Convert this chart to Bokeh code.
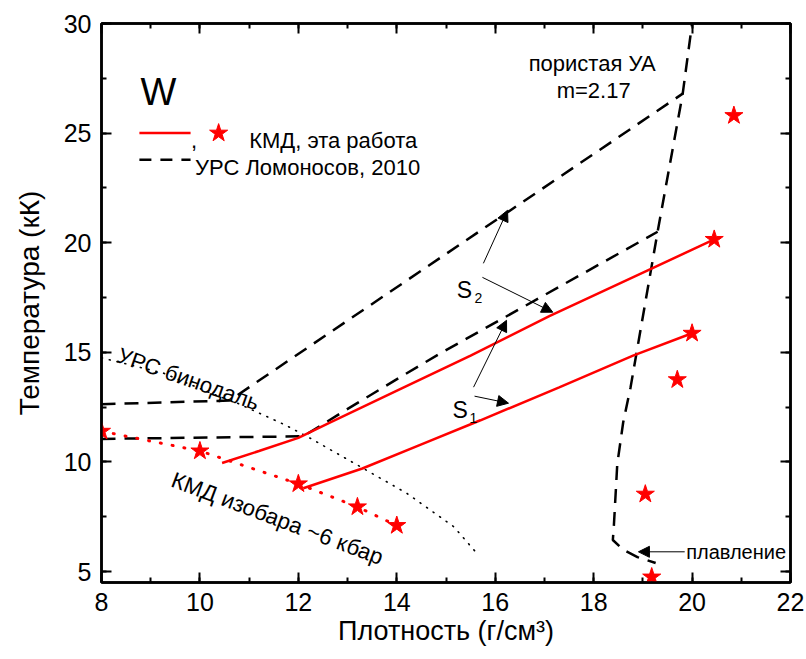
from bokeh.plotting import figure
from bokeh.models import Range1d, LinearAxis, SingleIntervalTicker, Arrow, NormalHead, Label
from bokeh.embed import file_html
from bokeh.resources import INLINE

FONT = "Liberation Sans"

# ---- data (density g/cm3, temperature kK) ----
isobar_rho = [8.0, 10.0, 12.0, 13.2, 14.0]
isobar_T = [11.4, 10.5, 9.0, 7.95, 7.1]
hug_rho = [19.18, 19.05, 19.7, 20.0, 20.45, 20.85]
hug_T = [4.75, 8.53, 13.75, 15.87, 20.15, 25.8]
s2_rho = [10.45, 11.2, 12.0, 12.65, 14.1, 15.5, 17.1, 19.1, 20.45]
s2_T = [9.95, 10.5, 11.1, 11.8, 13.35, 14.85, 16.65, 18.74, 20.15]
s1_rho = [12.1, 13.3, 14.5, 15.7, 17.3, 18.8, 20.0]
s1_T = [8.8, 9.7, 10.8, 11.9, 13.4, 14.85, 15.87]
eos_up_rho = [8.0, 10.6, 19.81]
eos_up_T = [12.63, 12.8, 26.8]
eos_low_rho = [8.0, 12.1, 12.96, 14.08, 14.89, 19.3]
eos_low_T = [11.05, 11.17, 12.36, 13.88, 14.96, 20.5]
porous_rho = [20.03, 19.81, 19.3, 18.75, 18.6, 18.48, 18.41, 18.39, 18.61, 18.89, 19.26]
porous_T = [30.5, 26.8, 20.5, 13.4, 11.8, 9.9, 7.04, 6.44, 5.98, 5.66, 5.39]
binodal_rho = [8.0, 9.26, 10.22, 10.76, 11.74, 12.25, 13.26, 14.21, 15.16, 15.6]
binodal_T = [14.75, 14.05, 13.14, 12.68, 11.68, 11.07, 9.78, 8.56, 7.04, 5.9]

x_ticks_interval = 2
y_ticks_interval = 5

p = figure(width=806, height=659, x_range=Range1d(8, 22), y_range=Range1d(4.5, 30),
           output_backend="svg", toolbar_location=None,
           min_border_left=101, min_border_right=16, min_border_top=23, min_border_bottom=77)
p.grid.visible = False
p.outline_line_color = "black"
p.outline_line_width = 2.5
p.background_fill_color = "white"
p.border_fill_color = "white"


def style_axis(ax, ticker, show_labels=True):
    ax.ticker = ticker
    ax.axis_line_width = 2.5
    ax.axis_line_color = "black"
    ax.major_tick_in = 10
    ax.major_tick_out = 0
    ax.minor_tick_in = 5
    ax.minor_tick_out = 0
    ax.major_tick_line_width = 2
    ax.minor_tick_line_width = 2
    ax.major_tick_line_color = "black"
    ax.minor_tick_line_color = "black"
    ax.major_label_text_font = FONT
    ax.major_label_text_color = "black"
    if show_labels:
        ax.major_label_text_font_size = "25px"
        ax.major_label_standoff = 10
    else:
        ax.major_label_text_font_size = "1px"
        ax.major_label_text_alpha = 0
        ax.major_label_standoff = 0


xt = lambda: SingleIntervalTicker(interval=x_ticks_interval, num_minor_ticks=2)
yt = lambda: SingleIntervalTicker(interval=y_ticks_interval, num_minor_ticks=2)

style_axis(p.xaxis[0], xt())
style_axis(p.yaxis[0], yt())
p.xaxis.axis_label = "Плотность (г/см³)"
p.yaxis.axis_label = "Температура (кК)"
for ax in (p.xaxis[0], p.yaxis[0]):
    ax.axis_label_text_font = FONT
    ax.axis_label_text_font_style = "normal"
    ax.axis_label_text_color = "black"
p.xaxis[0].axis_label_text_font_size = "27px"
p.yaxis[0].axis_label_text_font_size = "28px"
p.xaxis[0].axis_label_standoff = 2
p.yaxis[0].axis_label_standoff = 16

top = LinearAxis()
style_axis(top, xt(), show_labels=False)
p.add_layout(top, "above")
right = LinearAxis()
style_axis(right, yt(), show_labels=False)
p.add_layout(right, "right")

# ---- curves ----
p.line(binodal_rho, binodal_T, line_color="black", line_width=1.6, line_dash="1 7", line_cap="round")
p.line(eos_up_rho, eos_up_T, line_color="black", line_width=2.5, line_dash="14 9")
p.line(eos_low_rho, eos_low_T, line_color="black", line_width=2.5, line_dash="14 9")
p.line(porous_rho, porous_T, line_color="black", line_width=2.5, line_dash="14 9")
p.line(isobar_rho, isobar_T, line_color="red", line_width=3, line_dash="1 11", line_cap="round")
p.line(s2_rho, s2_T, line_color="red", line_width=2.5)
p.line(s1_rho, s1_T, line_color="red", line_width=2.5)
p.scatter(isobar_rho, isobar_T, marker="star", size=19, fill_color="red", line_color="red")
p.scatter(hug_rho, hug_T, marker="star", size=19, fill_color="red", line_color="red")

# ---- legend (manual) ----
p.line([8.77, 9.81], [25.0, 25.0], line_color="red", line_width=2.5)
p.scatter([10.38], [25.0], marker="star", size=19, fill_color="red", line_color="red")
p.line([8.77, 9.81], [23.79, 23.79], line_color="black", line_width=2.5, line_dash="12 9")


def lab(x, y, text, size, **kw):
    p.add_layout(Label(x=x, y=y, text=text, text_font=FONT, text_font_size=size,
                       text_color="black", **kw))


lab(9.82, 24.67, ",", "22px", text_baseline="alphabetic")
lab(11.0, 24.67, "КМД, эта работа", "22px", text_baseline="alphabetic")
lab(9.9, 23.45, "УРС Ломоносов, 2010", "22px", text_baseline="alphabetic")
lab(8.79, 26.86, "W", "38px", text_baseline="alphabetic")
lab(17.97, 28.18, "пористая УА", "22px", text_baseline="alphabetic", text_align="center")
lab(18.0, 26.95, "m=2.17", "22px", text_baseline="alphabetic", text_align="center")
lab(8.34, 14.9, "УРС бинодаль", "22px", text_baseline="alphabetic", angle=-0.335)
lab(9.44, 9.22, "КМД изобара ~6 кбар", "22.5px", text_baseline="alphabetic", angle=-0.36)
lab(19.88, 5.9, "плавление", "20px", text_baseline="middle")
lab(15.22, 17.83, "S", "23px", text_baseline="alphabetic")
lab(15.58, 17.47, "2", "14px", text_baseline="alphabetic")
lab(15.13, 12.36, "S", "23px", text_baseline="alphabetic")
lab(15.48, 12.0, "1", "14px", text_baseline="alphabetic")

# ---- arrows ----
def arr(x0, y0, x1, y1):
    p.add_layout(Arrow(x_start=x0, y_start=y0, x_end=x1, y_end=y1, line_width=1, line_color="black",
                       end=NormalHead(size=11, line_color="black", fill_color="black", line_width=1)))


arr(15.76, 19.06, 16.25, 21.48)
arr(15.74, 18.42, 17.17, 16.83)
arr(15.56, 13.41, 16.23, 16.46)
arr(15.58, 13.0, 16.27, 12.68)
arr(19.85, 5.9, 18.91, 5.9)

open("out.html", "w").write(file_html(p, INLINE))
